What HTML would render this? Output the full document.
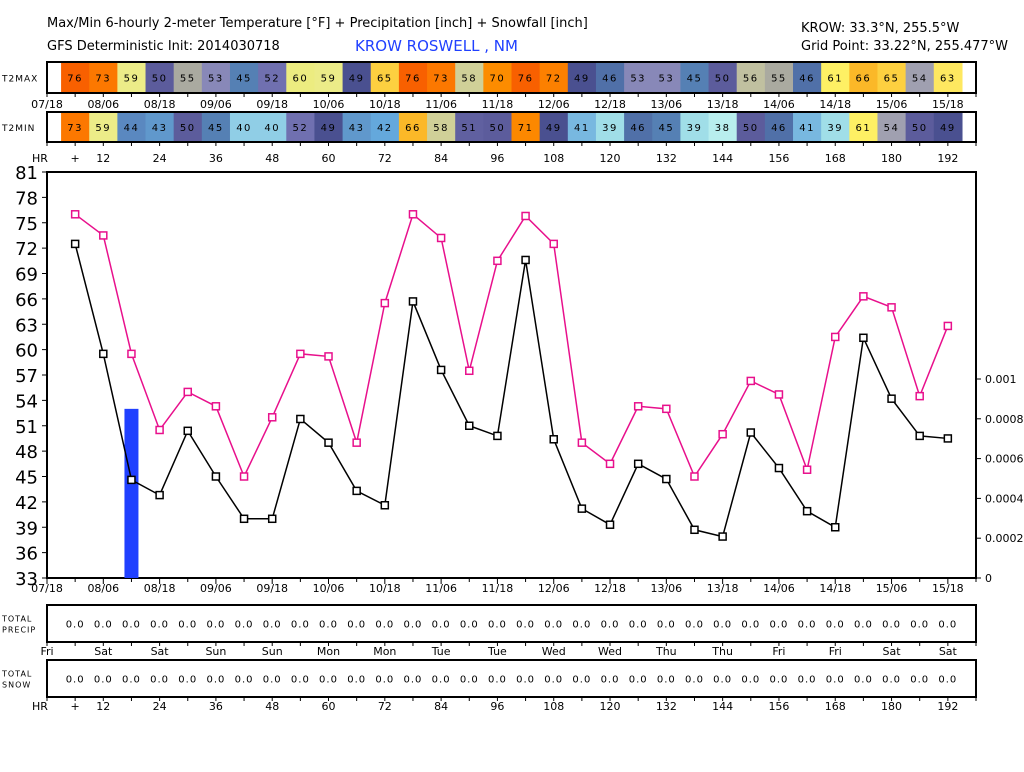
<!DOCTYPE html>
<html><head><meta charset="utf-8"><style>
body{margin:0;background:#fff;width:1024px;height:768px;overflow:hidden;font-family:"DejaVu Sans","Liberation Sans",sans-serif}
svg text{font-family:"DejaVu Sans","Liberation Sans",sans-serif}
</style></head><body>
<svg id="c" width="1024" height="768">
<text x="47" y="27" font-size="13">Max/Min 6-hourly 2-meter Temperature [°F] + Precipitation [inch] + Snowfall [inch]</text>
<text x="47" y="50" font-size="13">GFS Deterministic Init: 2014030718</text>
<text x="355" y="51" font-size="15" fill="#2040ff">KROW ROSWELL       , NM</text>
<text x="801" y="32" font-size="13">KROW: 33.3°N, 255.5°W</text>
<text x="801" y="50" font-size="13">Grid Point: 33.22°N, 255.477°W</text>
</svg>
<script>
const tmax=[76,73,59,50,55,53,45,52,60,59,49,65,76,73,58,70,76,72,49,46,53,53,45,50,56,55,46,61,66,65,54,63];
const tmin=[73,59,44,43,50,45,40,40,52,49,43,42,66,58,51,50,71,49,41,39,46,45,39,38,50,46,41,39,61,54,50,49];
const maxLine=[76,73.5,59.5,50.5,55,53.3,45,52,59.5,59.2,49,65.5,76,73.2,57.5,70.5,75.8,72.5,49,46.5,53.3,53,45,50,56.3,54.7,45.8,61.5,66.3,65,54.5,62.8];
const minLine=[72.5,59.5,44.6,42.8,50.4,45,40,40,51.8,49,43.3,41.6,65.7,57.6,51,49.8,70.6,49.4,41.2,39.3,46.5,44.7,38.7,37.9,50.2,46,40.9,39,61.4,54.2,49.8,49.5];
const precip=[0,0,0.00085,0,0,0,0,0,0,0,0,0,0,0,0,0,0,0,0,0,0,0,0,0,0,0,0,0,0,0,0,0];
const dateLabels=["07/18","08/06","08/18","09/06","09/18","10/06","10/18","11/06","11/18","12/06","12/18","13/06","13/18","14/06","14/18","15/06","15/18"];
const dayLabels=["Fri","Sat","Sat","Sun","Sun","Mon","Mon","Tue","Tue","Wed","Wed","Thu","Thu","Fri","Fri","Sat","Sat"];
const yTicks=[81,78,75,72,69,66,63,60,57,54,51,48,45,42,39,36,33];
const pTicks=[0,0.0002,0.0004,0.0006,0.0008,0.001];
const pLabels=["0","0.0002","0.0004","0.0006","0.0008","0.001"];

const svg=document.getElementById('c');const NS='http://www.w3.org/2000/svg';
function el(t,a,txt){const e=document.createElementNS(NS,t);for(const k in a)e.setAttribute(k,a[k]);if(txt!==undefined)e.textContent=txt;svg.appendChild(e);return e;}
const L=47,R=976,STEP=(R-L)/33;
const X=i=>L+STEP*(i+1);
const Y=v=>172+(81-v)*(406/48);
const PY=v=>578-v*(199/0.001);
const cmap={38:"#b8eeee",39:"#a0dee8",40:"#90cee6",41:"#78b8e0",42:"#64a8dc",43:"#6098cc",44:"#5a88c0",45:"#5580b4",46:"#5070a8",49:"#4a5090",50:"#5c5c9c",51:"#6060a0",52:"#7070b0",53:"#8888b8",54:"#a0a0b0",55:"#aaaaa0",56:"#c0c0a0",58:"#d0d098",59:"#ecec88",60:"#ecec80",61:"#fef064",63:"#fee860",65:"#fdd040",66:"#fbb828",70:"#fc8c00",71:"#fc8800",72:"#fc8000",73:"#fc7800",76:"#f86000"};
function col(v){if(cmap[v])return cmap[v];let best=38;for(const k in cmap)if(Math.abs(k-v)<Math.abs(best-v))best=+k;return cmap[best];}

function strip(vals,y0,y1,name,label){
  let t=el('text',{x:2,y:(y0+y1)/2+4,'font-size':9,'letter-spacing':'1'},label);
  
  
  vals.forEach((v,i)=>{
    const r=el('rect',{x:X(i)-STEP/2,y:y0,width:STEP+0.6,height:y1-y0,fill:col(v)});
    
    
    const tx=el('text',{x:X(i),y:(y0+y1)/2+4,'font-size':10,'text-anchor':'middle','letter-spacing':'1.5'},v);
    
    
  });
  const b=el('rect',{x:L,y:y0,width:R-L,height:y1-y0,fill:'none',stroke:'#000','stroke-width':2});
  
  
  for(let i=0;i<=33;i++)el('line',{x1:L+STEP*i,x2:L+STEP*i,y1:y1,y2:y1+4,stroke:'#000'});
}
strip(tmax,62,93,'t2max','T2MAX');
strip(tmin,112,142,'t2min','T2MIN');
function xLabels(y,labels,name){labels.forEach((s,k)=>{const t=el('text',{x:L+2*STEP*k,y:y,'font-size':11,'text-anchor':'middle'},s);});}
xLabels(108,dateLabels,'strip-date-label');
function hrRow(y){
  let t=el('text',{x:40,y:y,'font-size':11,'text-anchor':'middle'},'HR');
  
  
  t=el('text',{x:X(0),y:y,'font-size':11,'text-anchor':'middle'},'+');
  
  
  for(let h=12;h<=192;h+=12){t=el('text',{x:X(h/6-1),y:y,'font-size':11,'text-anchor':'middle'},h);
  
  }
}
hrRow(162);
const pb=el('rect',{x:L,y:172,width:R-L,height:406,fill:'#fff',stroke:'#000','stroke-width':2});


precip.forEach((p,i)=>{if(p>0){const r=el('rect',{x:X(i)-7,y:PY(p),width:14,height:578-PY(p),fill:'#2040ff'});

}});
yTicks.forEach(v=>{el('line',{x1:L-5,x2:L,y1:Y(v),y2:Y(v),stroke:'#000'});
const t=el('text',{x:L-9,y:Y(v)+7,'font-size':18,'text-anchor':'end'},v);

});
pTicks.forEach((v,k)=>{el('line',{x1:R,x2:R+5,y1:PY(v),y2:PY(v),stroke:'#000'});
const t=el('text',{x:R+9,y:PY(v)+4,'font-size':11},pLabels[k]);

});
for(let i=0;i<=33;i++)el('line',{x1:L+STEP*i,x2:L+STEP*i,y1:578,y2:i%2?582:584,stroke:'#000'});
xLabels(592,dateLabels,'x-date-label');
function series(vals,color,name){
  const pl=el('polyline',{points:vals.map((v,i)=>X(i)+','+Y(v)).join(' '),fill:'none',stroke:color,'stroke-width':1.5});
  
  
  vals.forEach((v,i)=>{const m=el('rect',{x:X(i)-3.5,y:Y(v)-3.5,width:7,height:7,fill:'#fff',stroke:color,'stroke-width':1.5});
  
  });
}
series(maxLine,'#e8108c','max-temp');
series(minLine,'#000','min-temp');
function panel(y0,y1,name,l1,l2){
  const b=el('rect',{x:L,y:y0,width:R-L,height:y1-y0,fill:'none',stroke:'#000','stroke-width':2});
  
  
  let t=el('text',{x:2,y:(y0+y1)/2-2,'font-size':8,'letter-spacing':'1'},l1);
  
  
  t=el('text',{x:2,y:(y0+y1)/2+9,'font-size':8,'letter-spacing':'1'},l2);
  
  
  for(let i=0;i<32;i++){t=el('text',{x:X(i),y:(y0+y1)/2+4,'font-size':10,'text-anchor':'middle','letter-spacing':'1'},'0.0');
  
  }
  for(let i=0;i<=33;i++)el('line',{x1:L+STEP*i,x2:L+STEP*i,y1:y1,y2:y1+4,stroke:'#000'});
}
panel(605,642,'total-precip','TOTAL','PRECIP');
xLabels(655,dayLabels,'day-label');
panel(660,697,'total-snow','TOTAL','SNOW');
hrRow(710);
</script>
</body></html>
